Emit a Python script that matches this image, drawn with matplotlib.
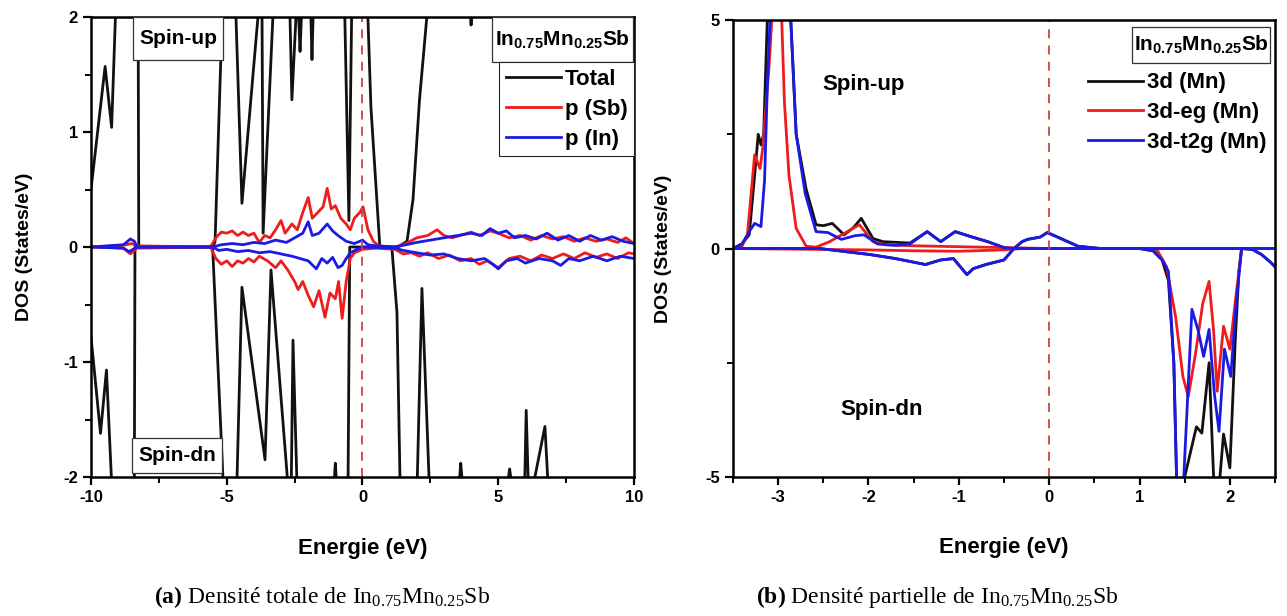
import matplotlib
matplotlib.use("Agg")
import matplotlib.pyplot as plt
from matplotlib.ticker import MultipleLocator
from matplotlib.patches import Rectangle

plt.rcParams['font.family'] = ['Liberation Sans', 'DejaVu Sans']
plt.rcParams['mathtext.fontset'] = 'custom'
plt.rcParams['mathtext.rm'] = 'Liberation Serif'
plt.rcParams['mathtext.bf'] = 'Liberation Serif:bold'
plt.rcParams['mathtext.sf'] = 'Liberation Sans:bold'
plt.rcParams['axes.unicode_minus'] = False

# ---------------- data: panel (a) total DOS ----------------
tot_up_E = [-10, -9.48, -9.24, -9.1, -9.0, -8.28, -8.24, -5.5, -5.43, -5.17, -5.1, -4.72, -4.66, -4.44,
            -3.85, -3.8, -3.74, -3.7, -3.66, -3.3, -3.25, -2.72, -2.67, -2.6, -2.45, -2.4, -2.35, -2.3,
            -2.25, -2.2, -1.95, -1.9, -1.86, -1.82, -1.75, -0.7, -0.65, -0.5, -0.4, -0.35, 0.15, 0.2,
            0.31, 0.64, 1.3, 1.64, 1.86, 2.1, 2.37, 2.45, 3.95, 4.0, 4.05, 6.0, 6.05, 6.1, 8.7, 8.75,
            8.8, 10]
tot_up = [0.5, 1.57, 1.04, 2.0, 3.5, 3.5, 0.0, 0.0, 0.05, 2.0, 3.5, 3.5, 2.0, 0.38,
          2.0, 3.5, 3.5, 2.0, 0.12, 2.0, 3.5, 3.5, 2.0, 1.28, 2.0, 2.5, 2.0, 1.7,
          2.0, 3.0, 2.5, 2.0, 1.63, 2.0, 3.5, 3.5, 2.0, 0.23, 2.0, 3.5, 3.5, 2.0,
          1.22, 0.0, 0.0, 0.05, 0.41, 1.28, 2.0, 3.5, 3.5, 1.93, 3.5, 3.5, 1.95, 3.5, 3.5, 1.96,
          3.5, 3.5]

tot_dn_E = [-10, -9.65, -9.43, -9.25, -9.2, -8.42, -8.38, -5.52, -5.14, -5.08, -4.7, -4.62, -4.44,
            -3.59, -3.37, -2.77, -2.74, -2.66, -2.62, -2.56, -2.42, -2.38, -1.08, -1.03, -1.0, -0.97,
            -0.92, -0.57, -0.53, -0.47, 1.08, 1.27, 1.38, 1.42, 1.98, 2.02, 2.19, 2.45, 2.5, 3.55,
            3.58, 3.62, 3.66, 3.7, 5.35, 5.38, 5.42, 5.46, 5.5, 5.95, 5.98, 6.03, 6.1, 6.13, 6.3,
            6.35, 6.72, 6.82, 6.86, 10]
tot_dn = [-0.78, -1.62, -1.07, -2.0, -3.5, -3.5, 0.0, 0.0, -2.0, -3.5, -3.5, -2.0, -0.35,
          -1.85, -0.2, -2.0, -3.5, -3.5, -2.0, -0.81, -2.0, -3.5, -3.5, -2.0, -1.88, -2.0,
          -3.5, -3.5, -2.0, 0.0, 0.0, -0.57, -2.0, -3.5, -3.5, -2.0, -0.36, -2.0, -3.5, -3.5,
          -2.0, -1.88, -2.0, -3.5, -3.5, -2.0, -1.93, -2.0, -3.5, -3.5, -2.0, -1.42, -2.0, -3.5, -3.5,
          -2.0, -1.56, -2.0, -3.5, -3.5]

psb_up_E = [-10, -9.0, -8.7, -8.5, -8.3, -5.6, -5.4, -5.2, -5.0, -4.8, -4.6, -4.4, -4.2, -4.0, -3.8,
            -3.6, -3.4, -3.2, -3.0, -2.85, -2.6, -2.4, -2.2, -2.0, -1.85, -1.65, -1.45, -1.3, -1.15,
            -1.0, -0.8, -0.6, -0.45, -0.3, -0.1, 0.02, 0.2, 0.4, 0.6, 1.2, 1.6, 2.0, 2.4, 2.75, 3.0,
            3.3, 3.6, 4.0, 4.3, 4.7, 5.0, 5.4, 5.8, 6.2, 6.6, 7.0, 7.4, 7.8, 8.2, 8.6, 9.0, 9.4,
            9.7, 10]
psb_up = [0, 0.01, 0.02, 0.03, 0.01, 0, 0.08, 0.13, 0.12, 0.14, 0.1, 0.13, 0.1, 0.12, 0.04,
          0.1, 0.08, 0.15, 0.23, 0.12, 0.2, 0.15, 0.3, 0.43, 0.25, 0.3, 0.35, 0.51, 0.33,
          0.36, 0.25, 0.2, 0.15, 0.25, 0.3, 0.35, 0.15, 0.05, 0.01, 0.0, 0.03, 0.08, 0.1, 0.15, 0.1,
          0.08, 0.1, 0.13, 0.1, 0.14, 0.12, 0.08, 0.1, 0.06, 0.1, 0.07, 0.09, 0.05, 0.08, 0.05, 0.07, 0.04,
          0.08, 0.03]

pin_up_E = [-10, -8.8, -8.55, -8.4, -8.3, -5.5, -5.2, -4.8, -4.4, -4.0, -3.6, -3.2, -2.8, -2.5,
            -2.2, -2.0, -1.85, -1.6, -1.3, -1.1, -0.9, -0.6, -0.3, 0.0, 0.2, 0.5, 1.2, 1.6, 2.0,
            2.5, 3.0, 3.5, 4.0, 4.4, 4.7, 5.0, 5.3, 5.6, 6.0, 6.4, 6.8, 7.2, 7.6, 8.0, 8.4, 8.8,
            9.2, 9.6, 10]
pin_up = [0, 0.02, 0.07, 0.05, 0, 0, 0.02, 0.03, 0.02, 0.04, 0.03, 0.06, 0.04, 0.08,
          0.12, 0.22, 0.1, 0.12, 0.2, 0.14, 0.1, 0.05, 0.03, 0.06, 0.02, 0.01, 0.0, 0.02, 0.04,
          0.06, 0.08, 0.1, 0.12, 0.1, 0.16, 0.12, 0.14, 0.08, 0.1, 0.07, 0.12, 0.06, 0.1, 0.05, 0.1, 0.06,
          0.09, 0.05, 0.03]

psb_dn_E = [-10, -8.8, -8.55, -8.3, -5.6, -5.4, -5.2, -5.0, -4.8, -4.6, -4.4, -4.2, -4.0, -3.8,
            -3.5, -3.2, -3.0, -2.75, -2.5, -2.37, -2.2, -2.0, -1.8, -1.6, -1.38, -1.2, -1.0, -0.88,
            -0.75, -0.6, -0.45, -0.3, 0.0, 0.5, 1.2, 1.5, 1.8, 2.1, 2.4, 2.8, 3.2, 3.6, 4.0, 4.3,
            4.6, 5.0, 5.4, 5.8, 6.2, 6.6, 7.0, 7.4, 7.8, 8.2, 8.6, 9.0, 9.4, 9.8, 10]
psb_dn = [0, -0.01, -0.06, -0.01, 0, -0.1, -0.15, -0.12, -0.17, -0.12, -0.14, -0.1, -0.13, -0.08,
          -0.12, -0.18, -0.12, -0.2, -0.3, -0.37, -0.3, -0.42, -0.52, -0.38, -0.61, -0.4, -0.45, -0.3,
          -0.62, -0.3, -0.1, -0.05, -0.02, -0.01, -0.02, -0.06, -0.05, -0.08, -0.05, -0.1, -0.07, -0.12,
          -0.1, -0.15, -0.12, -0.18, -0.1, -0.08, -0.12, -0.07, -0.1, -0.06, -0.1, -0.05, -0.09, -0.06,
          -0.1, -0.05, -0.06]

pin_dn_E = [-10, -8.8, -8.6, -8.45, -8.3, -5.5, -5.3, -5.0, -4.6, -4.2, -3.8, -3.4, -3.0, -2.6,
            -2.3, -2.0, -1.7, -1.5, -1.3, -1.1, -0.9, -0.75, -0.6, -0.45, -0.2, 0.0, 1.2, 1.5, 2.0,
            2.5, 3.0, 3.5, 4.0, 4.5, 4.8, 5.0, 5.3, 5.7, 6.0, 6.5, 7.0, 7.3, 7.6, 8.0, 8.5, 9.0,
            9.5, 10]
pin_dn = [0, -0.01, -0.04, -0.02, 0, 0, -0.03, -0.02, -0.04, -0.03, -0.05, -0.04, -0.06, -0.08,
          -0.1, -0.12, -0.19, -0.1, -0.14, -0.09, -0.18, -0.16, -0.1, -0.05, -0.02, 0.0, -0.01, -0.03, -0.05,
          -0.07, -0.06, -0.1, -0.12, -0.1, -0.15, -0.19, -0.12, -0.1, -0.14, -0.1, -0.12, -0.16, -0.1, -0.12, -0.08, -0.12,
          -0.08, -0.1]

# ---------------- data: panel (b) partial Mn-3d DOS ----------------
d3_up_E = [-3.5, -3.4, -3.32, -3.26, -3.22, -3.19, -3.16, -3.12, -3.08, -2.9, -2.86, -2.8, -2.69,
           -2.58, -2.5, -2.4, -2.27, -2.17, -2.08, -1.95, -1.84, -1.54, -1.35, -1.2, -1.04, -0.85,
           -0.68, -0.5, -0.39, -0.3, -0.24, -0.1, -0.02, 0.15, 0.32, 0.57, 2.5]
d3_up = [0, 0.1, 0.3, 1.6, 2.5, 2.27, 2.5, 5.0, 6.5, 6.5, 5.0, 2.5, 1.3,
         0.52, 0.5, 0.55, 0.3, 0.45, 0.66, 0.22, 0.15, 0.12, 0.37, 0.15, 0.37, 0.25,
         0.15, 0.02, 0.0, 0.15, 0.2, 0.25, 0.35, 0.2, 0.05, 0.0, 0.0]

eg_up_E = [-3.5, -3.4, -3.34, -3.26, -3.2, -3.17, -3.1, -3.07, -3.05, -2.98, -2.96, -2.93, -2.88,
           -2.8, -2.69, -2.58, -2.43, -2.25, -2.1, -1.95, -1.8, -1.5, -1.0, -0.5, 0.0, 2.5]
eg_up = [0, 0.05, 0.3, 2.05, 1.75, 2.2, 4.0, 5.0, 6.0, 6.0, 5.0, 3.2, 1.6,
         0.44, 0.05, 0.03, 0.15, 0.35, 0.52, 0.15, 0.08, 0.06, 0.04, 0.02, 0.0, 0.0]

t2g_up_E = [-3.5, -3.4, -3.32, -3.26, -3.19, -3.15, -3.12, -3.09, -3.07, -2.9, -2.86, -2.8, -2.7,
            -2.58, -2.45, -2.3, -2.15, -2.05, -1.9, -1.7, -1.54, -1.35, -1.2, -1.04, -0.85, -0.68,
            -0.5, -0.39, -0.3, -0.24, -0.1, -0.02, 0.15, 0.32, 0.57, 2.5]
t2g_up = [0, 0.1, 0.37, 0.55, 0.48, 1.5, 3.5, 5.0, 6.0, 6.0, 5.0, 2.5, 1.2,
          0.37, 0.35, 0.2, 0.28, 0.3, 0.1, 0.07, 0.1, 0.37, 0.15, 0.37, 0.25, 0.15,
          0.02, 0.0, 0.15, 0.2, 0.25, 0.35, 0.2, 0.05, 0.0, 0.0]

d3_dn_E = [-3.5, -3.0, -2.54, -1.99, -1.7, -1.37, -1.2, -1.06, -0.91, -0.84, -0.7, -0.5, -0.39,
           1.0, 1.15, 1.25, 1.32, 1.38, 1.41, 1.44, 1.47, 1.5, 1.63, 1.69, 1.77, 1.82, 1.85, 1.87,
           1.89, 1.93, 2.0, 2.06, 2.1, 2.13, 2.25, 2.35, 2.45, 2.5]
d3_dn = [0, 0, 0.0, -0.13, -0.22, -0.35, -0.25, -0.22, -0.57, -0.44, -0.35, -0.25, 0.0,
         0, -0.05, -0.25, -0.7, -2.5, -5.0, -6.0, -6.0, -5.0, -3.9, -4.04, -2.5, -5.0, -6.0, -6.0,
         -5.0, -4.06, -4.8, -2.0, -0.5, 0.0, -0.02, -0.13, -0.3, -0.4]

eg_dn_E = [-3.5, -2.0, -1.5, -1.0, -0.5, -0.3, 1.1, 1.2, 1.3, 1.4, 1.48, 1.54, 1.62, 1.7, 1.77,
           1.82, 1.86, 1.93, 2.0, 2.07, 2.13, 2.5]
eg_dn = [0, -0.03, -0.05, -0.06, -0.03, 0, 0, -0.05, -0.4, -1.5, -2.8, -3.24, -2.3, -1.2, -0.72,
         -1.8, -3.12, -1.7, -2.2, -1.0, 0, 0]

t2g_dn_E = [-3.5, -3.0, -2.54, -1.99, -1.7, -1.37, -1.2, -1.06, -0.91, -0.84, -0.7, -0.5, -0.39,
            1.0, 1.15, 1.25, 1.32, 1.38, 1.41, 1.44, 1.47, 1.49, 1.58, 1.65, 1.71, 1.77, 1.83,
            1.88, 1.94, 2.01, 2.07, 2.13, 2.25, 2.35, 2.45, 2.5]
t2g_dn = [0, 0, 0.0, -0.13, -0.22, -0.35, -0.25, -0.22, -0.57, -0.44, -0.35, -0.25, 0.0,
          0, -0.05, -0.25, -0.5, -2.5, -5.0, -6.0, -6.0, -5.0, -1.33, -1.8, -2.36, -1.77, -3.2,
          -4.0, -2.2, -2.8, -1.2, 0.0, -0.02, -0.13, -0.3, -0.4]

legend_a = ['Total', 'p (Sb)', 'p (In)']
legend_b = ['3d (Mn)', '3d-eg (Mn)', '3d-t2g (Mn)']
compound = r'$\mathsf{In_{0.75}Mn_{0.25}Sb}$'
caption_a = r'$\mathbf{(a)}$ Densité totale de $\mathrm{In_{0.75}Mn_{0.25}Sb}$'
caption_b = r'$\mathbf{(b)}$ Densité partielle de $\mathrm{In_{0.75}Mn_{0.25}Sb}$'

# ---------------- styling ----------------
BLACK = '#111111'
RED = '#ee1c1c'
BLUE = '#1a1ae6'
FERMI = '#cc4444'
LW = 2.0
FS_TICK = 12
FS_XLAB = 16
FS_YLAB = 14
FS_LEG = 16
FS_BOX = 15
FS_CAP = 17

fig = plt.figure(figsize=(12.87, 6.16), dpi=100)
axa = fig.add_axes([0.0707, 0.2256, 0.4219, 0.7468])
axb = fig.add_axes([0.5695, 0.2256, 0.4212, 0.7419])


def style(ax):
    for s in ax.spines.values():
        s.set_linewidth(1.8)
    ax.tick_params(which='major', direction='out', length=6, width=1.6,
                   labelsize=FS_TICK)
    ax.tick_params(which='minor', direction='out', length=4, width=1.4)
    for lab in ax.get_xticklabels() + ax.get_yticklabels():
        lab.set_fontweight('bold')


def boxed_text(ax, text, x0, y0, x1, y1, transform, **kw):
    ax.add_patch(Rectangle((x0, y0), x1 - x0, y1 - y0, transform=transform,
                           fc='white', ec='#333333', lw=0.9, zorder=5, clip_on=False))
    ax.text((x0 + x1) / 2, (y0 + y1) / 2, text, transform=transform,
            fontsize=FS_BOX, ha='center', va='center', zorder=6, **kw)


# ---- panel a
axa.plot(tot_up_E, tot_up, color=BLACK, lw=LW, label=legend_a[0])
axa.plot(tot_dn_E, tot_dn, color=BLACK, lw=LW)
axa.plot(psb_up_E, psb_up, color=RED, lw=LW, label=legend_a[1])
axa.plot(psb_dn_E, psb_dn, color=RED, lw=LW)
axa.plot(pin_up_E, pin_up, color=BLUE, lw=LW, label=legend_a[2])
axa.plot(pin_dn_E, pin_dn, color=BLUE, lw=LW)
axa.axvline(0, color=FERMI, lw=1.3, ls=(0, (5, 4)))
axa.set_xlim(-10, 10)
axa.set_ylim(-2, 2)
axa.xaxis.set_major_locator(MultipleLocator(5))
axa.xaxis.set_minor_locator(MultipleLocator(2.5))
axa.yaxis.set_major_locator(MultipleLocator(1))
axa.yaxis.set_minor_locator(MultipleLocator(0.5))
axa.set_xlabel('Energie (eV)', fontsize=FS_XLAB, fontweight='bold')
axa.set_ylabel('DOS (States/eV)', fontsize=FS_YLAB, fontweight='bold')
axa.xaxis.set_label_coords(0.5, -0.132)
axa.yaxis.set_label_coords(-0.107, 0.5)
style(axa)

boxed_text(axa, 'Spin-up', -8.45, 1.626, -5.14, 2.0, axa.transData, fontweight='bold')
boxed_text(axa, 'Spin-dn', -8.49, -1.965, -5.18, -1.66, axa.transData, fontweight='bold')
boxed_text(axa, compound, 0.7385, 0.902, 0.999, 0.999, axa.transAxes)
leg = axa.legend(loc='upper right', bbox_to_anchor=(1.0, 0.902), fontsize=FS_LEG, frameon=True,
                 fancybox=False, edgecolor='#222222', framealpha=1, handlelength=2.5,
                 handletextpad=0.15, borderpad=0.3, labelspacing=0.4, borderaxespad=0)
leg.get_frame().set_linewidth(0.8)
for t in leg.get_texts():
    t.set_fontweight('bold')

# ---- panel b
axb.plot(d3_up_E, d3_up, color=BLACK, lw=LW, label=legend_b[0])
axb.plot(d3_dn_E, d3_dn, color=BLACK, lw=LW)
axb.plot(eg_up_E, eg_up, color=RED, lw=LW, label=legend_b[1])
axb.plot(eg_dn_E, eg_dn, color=RED, lw=LW)
axb.plot(t2g_up_E, t2g_up, color=BLUE, lw=LW, label=legend_b[2])
axb.plot(t2g_dn_E, t2g_dn, color=BLUE, lw=LW)
axb.axvline(0, color=FERMI, lw=1.3, ls=(0, (5, 4)))
axb.set_xlim(-3.5, 2.5)
axb.set_ylim(-5, 5)
axb.xaxis.set_major_locator(MultipleLocator(1))
axb.xaxis.set_minor_locator(MultipleLocator(0.5))
axb.yaxis.set_major_locator(MultipleLocator(5))
axb.yaxis.set_minor_locator(MultipleLocator(2.5))
axb.set_xlabel('Energie (eV)', fontsize=FS_XLAB, fontweight='bold')
axb.set_ylabel('DOS (States/eV)', fontsize=FS_YLAB, fontweight='bold')
axb.xaxis.set_label_coords(0.5, -0.132)
axb.yaxis.set_label_coords(-0.112, 0.5)
style(axb)
axb.text(-2.06, 3.58, 'Spin-up', fontsize=FS_LEG, fontweight='bold', ha='center', va='center')
axb.text(-1.85, -3.52, 'Spin-dn', fontsize=FS_LEG, fontweight='bold', ha='center', va='center')
boxed_text(axb, compound, 0.736, 0.906, 0.991, 0.985, axb.transAxes)
legb = axb.legend(loc='upper right', bbox_to_anchor=(1.0, 0.905), fontsize=FS_LEG, frameon=False,
                  handlelength=2.5, handletextpad=0.15, labelspacing=0.4, borderaxespad=0)
for t in legb.get_texts():
    t.set_fontweight('bold')

# ---- captions
fig.text(0.25, 0.031, caption_a, fontsize=FS_CAP, family='Liberation Serif', ha='center', va='center')
fig.text(0.728, 0.031, caption_b, fontsize=FS_CAP, family='Liberation Serif', ha='center', va='center')

fig.savefig('out.png', dpi=100)
